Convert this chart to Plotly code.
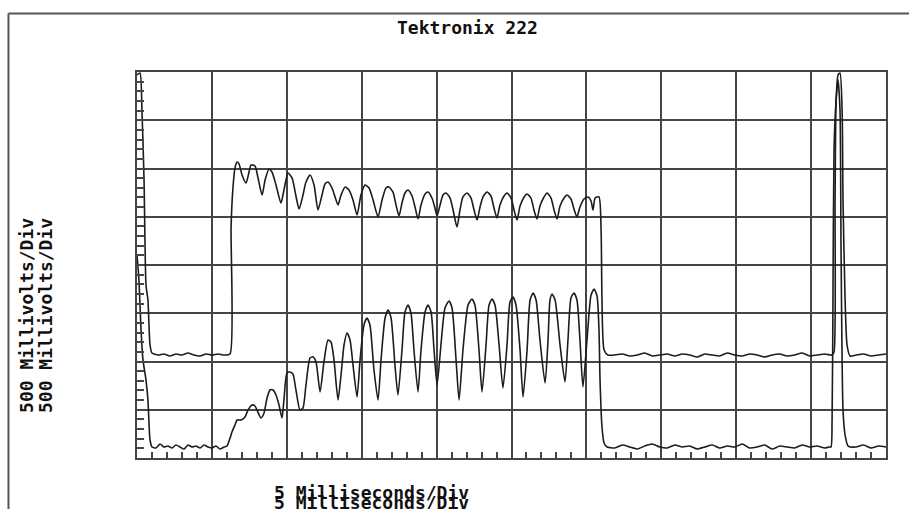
import plotly.graph_objects as go

# ---------------- data (time in ms, voltage in mV) ----------------
ch1_t = [0.00, 0.20, 0.33, 0.47, 0.60, 0.73, 0.87, 1.00,
         1.40, 1.80, 2.20, 2.60, 3.00, 3.40, 3.80, 4.21, 4.61, 5.01, 5.41, 5.81, 6.21,
         6.28, 6.41, 6.54, 6.68, 6.81, 7.01, 7.28, 7.48, 7.61, 7.88, 8.08, 8.35, 8.55,
         8.81, 9.01, 9.28, 9.61, 9.81, 10.08, 10.35, 10.61, 10.82, 11.08, 11.28, 11.55,
         11.82, 12.08, 12.35, 12.55, 12.75, 13.02, 13.22, 13.42, 13.62, 13.89, 14.15,
         14.42, 14.69, 14.95, 15.22, 15.49, 15.76, 16.09, 16.36, 16.62, 16.82, 17.09,
         17.29, 17.49, 17.69, 17.89, 18.09, 18.36, 18.56, 18.76, 18.96, 19.23, 19.43,
         19.69, 19.89, 20.03, 20.23, 20.43, 20.63, 20.90, 21.10, 21.36, 21.56, 21.76,
         22.03, 22.30, 22.50, 22.70, 22.90, 23.10, 23.37, 23.63, 23.83, 24.03, 24.23,
         24.50, 24.70, 24.97, 25.17, 25.37, 25.57, 25.84, 26.04, 26.30, 26.50, 26.70,
         26.90, 27.17, 27.37, 27.64, 27.84, 28.04, 28.24, 28.51, 28.71, 28.97, 29.17,
         29.37, 29.57, 29.84, 30.11, 30.31, 30.44, 30.58, 30.84, 30.98, 31.04, 31.18,
         31.44,
         31.9, 32.4, 32.9, 33.4, 33.9, 34.4, 34.9, 35.4, 35.9, 36.4, 36.9, 37.4, 37.9,
         38.4, 38.9, 39.4, 39.9, 40.4, 40.9, 41.4, 41.9, 42.4, 42.9, 43.4, 43.9, 44.4,
         44.9, 45.4, 45.9, 46.3,
         46.40, 46.53, 46.60, 46.67, 46.80, 46.93, 47.07, 47.13, 47.27, 47.40, 47.60,
         48.0, 48.5, 49.0, 49.5, 50.0]
ch1_mv = [1969, 1990, 1606, 881, -207, -363, -829, -912,
          -933, -922, -943, -922, -933, -912, -933, -943, -922, -933, -922, -933, -922,
          394, 808, 1005, 1067, 1047, 933, 850, 964, 1036, 1026, 902, 725, 881,
          995, 964, 829, 642, 777, 953, 902, 715, 580, 725, 860, 933,
          829, 570, 725, 839, 860, 798, 705, 622, 725, 808, 777,
          674, 518, 725, 829, 798, 674, 497, 674, 798, 808, 756,
          622, 508, 642, 746, 777, 715, 601, 477, 622, 736, 756,
          694, 591, 508, 622, 725, 746, 694, 570, 394, 570, 705,
          746, 694, 570, 466, 601, 705, 756, 715, 591, 487, 622,
          715, 746, 694, 570, 466, 611, 705, 736, 694, 570, 477,
          611, 705, 746, 694, 570, 477, 611, 694, 725, 684, 580,
          497, 601, 684, 705, 663, 570, 694, 705, 363, -363, -881,
          -933,
          -933, -922, -943, -933, -912, -943, -933, -922, -943, -922, -933, -953, -922,
          -933, -943, -912, -933, -943, -922, -933, -953, -933, -922, -943, -933, -912,
          -943, -933, -922, -933,
          -933, -902, 674, 1710, 1969, 1990, 1606, 674, -363, -829, -943,
          -933, -922, -943, -933, -922]

ch2_t = [0.00, 0.13, 0.27, 0.40, 0.60, 0.73, 0.87, 1.00,
         1.27, 1.54, 1.80, 2.07, 2.34, 2.60, 2.87, 3.14, 3.40, 3.67, 3.94, 4.21, 4.47,
         4.74, 5.01, 5.27, 5.54, 5.81,
         6.01, 6.21, 6.34, 6.54, 6.68, 6.94, 7.21, 7.41, 7.68, 7.88, 8.01, 8.28, 8.48,
         8.68, 8.88, 9.08, 9.28, 9.48, 9.68, 9.81, 10.01, 10.21, 10.41, 10.61, 10.88,
         11.08, 11.28, 11.55, 11.75, 11.95, 12.22, 12.48, 12.75, 12.95, 13.15, 13.42,
         13.62, 13.82, 14.02, 14.22, 14.42, 14.69, 14.89, 15.15, 15.35, 15.55, 15.82,
         16.09, 16.29, 16.56, 16.76, 16.96, 17.22, 17.42, 17.69, 17.89, 18.09, 18.29,
         18.49, 18.76, 18.96, 19.23, 19.43, 19.63, 19.83, 20.03, 20.29, 20.56, 20.83,
         21.03, 21.30, 21.50, 21.76, 22.10, 22.36, 22.56, 22.83, 23.03, 23.30, 23.50,
         23.70, 23.90, 24.17, 24.43, 24.70, 24.90, 25.10, 25.30, 25.57, 25.77, 26.04,
         26.24, 26.44, 26.64, 26.90, 27.24, 27.44, 27.57, 27.71, 27.91, 28.24, 28.57,
         28.77, 28.97, 29.17, 29.37, 29.57, 29.77, 30.04, 30.31, 30.51, 30.71, 30.84,
         30.91, 31.04, 31.18, 31.38,
         31.9, 32.4, 32.9, 33.4, 33.9, 34.4, 34.9, 35.4, 35.9, 36.4, 36.9, 37.4, 37.9,
         38.4, 38.9, 39.4, 39.9, 40.4, 40.9, 41.4, 41.9, 42.4, 42.9, 43.4, 43.9, 44.4,
         44.9, 45.4, 45.9, 46.2,
         46.33, 46.40, 46.46, 46.53, 46.67, 46.80, 46.93, 47.00, 47.13, 47.27, 47.47,
         48.0, 48.5, 49.0, 49.5, 50.0]
ch2_mv = [104, -155, -674, -984, -1192, -1399, -1813, -1886,
          -1896, -1855, -1886, -1876, -1896, -1865, -1886, -1907, -1865, -1886, -1876,
          -1896, -1865, -1886, -1896, -1876, -1907, -1886,
          -1876, -1793, -1731, -1658, -1606, -1606, -1575, -1503, -1451, -1461, -1503,
          -1585, -1534, -1378, -1295, -1295, -1347, -1451, -1585, -1399, -1119, -1109,
          -1130, -1295, -1503, -1482, -1244, -964, -953, -1005, -1316, -1005, -777,
          -798, -984, -1399, -1140, -829, -705, -777, -1036, -1368, -984, -622, -549,
          -622, -1088, -1399, -984, -549, -466, -549, -1036, -1347, -881, -487, -415,
          -497, -881, -1316, -881, -487, -415, -487, -881, -1244, -829, -446, -373,
          -446, -984, -1399, -881, -415, -352, -415, -881, -1316, -829, -415, -352,
          -415, -829, -1275, -829, -383, -332, -415, -881, -1368, -881, -363, -290,
          -363, -777, -1223, -777, -363, -301, -363, -829, -1212, -777, -342, -290,
          -363, -777, -1264, -777, -311, -249, -321, -674, -1192, -1679, -1845, -1886,
          -1896, -1865, -1886, -1907, -1876, -1855, -1886, -1896, -1865, -1886, -1876,
          -1907, -1886, -1865, -1896, -1876, -1886, -1855, -1896, -1886, -1865, -1907,
          -1876, -1886, -1896, -1865, -1886, -1876, -1896, -1886,
          -1886, -1606, -363, 1192, 1710, 1917, 1606, 155, -1503, -1762, -1876,
          -1886, -1865, -1896, -1876, -1886]

title_text = "Tektronix 222"
y_label = "500 Millivolts/Div"
x_label = "5 Milliseconds/Div"

# ---------------- figure ----------------
TRACE = "#1c1c1c"
GRID = "#454545"
FONT = "DejaVu Sans Mono"

fig = go.Figure()
fig.add_trace(go.Scatter(x=ch1_t, y=ch1_mv, mode="lines",
                         line=dict(color=TRACE, width=1.6, shape="spline", smoothing=0.6),
                         hoverinfo="skip"))
fig.add_trace(go.Scatter(x=ch2_t, y=ch2_mv, mode="lines",
                         line=dict(color=TRACE, width=1.6, shape="spline", smoothing=0.6),
                         hoverinfo="skip"))

fig.update_layout(
    width=909, height=509,
    margin=dict(l=137, r=23, t=72, b=51),
    paper_bgcolor="white", plot_bgcolor="white",
    showlegend=False,
    font=dict(family=FONT, color="#111"),
)
fig.update_xaxes(range=[0, 50], dtick=5, showgrid=True, gridcolor=GRID, gridwidth=2,
                 zeroline=False, showline=True, mirror=True, linecolor=GRID, linewidth=2,
                 showticklabels=False, ticks="inside", ticklen=6, tickcolor=GRID, tickwidth=1.5,
                 minor=dict(dtick=1, ticks="inside", ticklen=6, tickcolor=GRID, tickwidth=1.5,
                            showgrid=False))
fig.update_yaxes(range=[-2000, 2000], dtick=500, showgrid=True, gridcolor=GRID, gridwidth=2,
                 zeroline=False, showline=True, mirror=True, linecolor=GRID, linewidth=2,
                 showticklabels=False, ticks="inside", ticklen=7, tickcolor=GRID, tickwidth=1.5,
                 minor=dict(dtick=100, ticks="inside", ticklen=7, tickcolor=GRID, tickwidth=1.5,
                            showgrid=False))

# outer frame lines (top and left)
fig.add_shape(type="line", xref="paper", yref="paper", x0=-0.1716, x1=1.04, y0=1.1516, y1=1.1516,
              line=dict(color="#555", width=2))
fig.add_shape(type="line", xref="paper", yref="paper", x0=-0.1716, x1=-0.1716, y0=1.1516, y1=-0.14,
              line=dict(color="#555", width=2))

txt = dict(family=FONT, size=18, color="#111")
fig.add_annotation(text="<b>%s</b>" % title_text, xref="paper", yref="paper",
                   x=0.4413, y=1.114, xanchor="center", yanchor="middle", showarrow=False, font=txt)
for xp in (-0.1469, -0.1215):
    fig.add_annotation(text="<b>%s</b>" % y_label, xref="paper", yref="paper",
                       x=xp, y=0.3705, xanchor="center", yanchor="middle", textangle=-90,
                       showarrow=False, font=txt)
for yp in (-0.0894, -0.114):
    fig.add_annotation(text="<b>%s</b>" % x_label, xref="paper", yref="paper",
                       x=0.180, y=yp, xanchor="left", yanchor="middle",
                       showarrow=False, font=txt)

fig.write_html("out.html")
